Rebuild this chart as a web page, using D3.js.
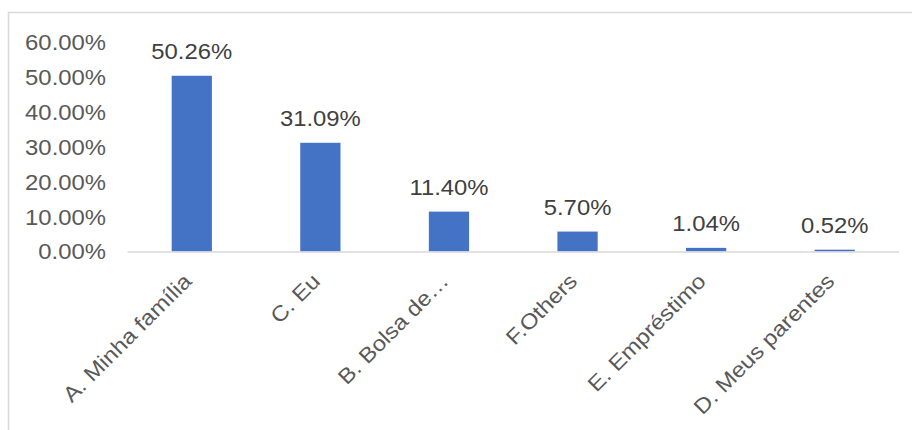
<!DOCTYPE html>
<html>
<head>
<meta charset="utf-8">
<script src="https://cdn.jsdelivr.net/npm/d3@7"></script>
<style>
  html, body { margin: 0; padding: 0; background: #fff; }
  svg { display: block; font-family: "Liberation Sans", Arial, sans-serif; }
</style>
</head>
<body>
<svg id="chart" width="912" height="430"></svg>
<script>
// Funding source shares (percent of respondents)
const categories = ["A. Minha família", "C. Eu", "B. Bolsa de…", "F.Others", "E. Empréstimo", "D. Meus parentes"];
const values = [50.26, 31.09, 11.40, 5.70, 1.04, 0.52];
const yTicks = [0, 10, 20, 30, 40, 50, 60];

const svg = d3.select("#chart");
const W = 912, H = 430;
const FONT = 21.4;      // label size
const WIDEN = 1.115;    // widening of the lettering along its baseline

// chart area frame (clipped on the right and bottom)
svg.append("path")
  .attr("d", `M8.5,${H} V12.5 H${W}`)
  .attr("fill", "none")
  .attr("stroke", "#d9d9d9")
  .attr("stroke-width", 1.5);

const x = d3.scaleBand()
  .domain(categories)
  .range([127.5, 899])
  .paddingInner(0.687)
  .paddingOuter(0.3435);

const y = d3.scaleLinear()
  .domain([0, 60])
  .range([251.5, 41.7]);

// value axis labels (no axis line, no ticks)
const yAxis = d3.axisLeft(y)
  .tickValues(yTicks)
  .tickSize(0)
  .tickPadding(0)
  .tickFormat(d => d3.format(".2f")(d) + "%");

const gy = svg.append("g")
  .attr("transform", "translate(106,0)")
  .call(yAxis);
gy.select(".domain").remove();
gy.selectAll("text")
  .attr("fill", "#595959")
  .attr("font-size", FONT)
  .attr("font-family", "Liberation Sans, Arial, sans-serif")
  .attr("x", 0)
  .attr("dy", "0.35em")
  .attr("transform", `scale(${WIDEN},1)`);

// bars
svg.append("g")
  .selectAll("rect")
  .data(values)
  .join("rect")
  .attr("x", (d, i) => x(categories[i]))
  .attr("width", x.bandwidth())
  .attr("y", d => y(d))
  .attr("height", d => y(0) - y(d))
  .attr("fill", "#4472c4");

// category axis line
svg.append("line")
  .attr("x1", x.range()[0])
  .attr("x2", x.range()[1])
  .attr("y1", y(0) + 0.5)
  .attr("y2", y(0) + 0.5)
  .attr("stroke", "#d9d9d9")
  .attr("stroke-width", 1.5);

// data labels
svg.append("g")
  .selectAll("text")
  .data(values)
  .join("text")
  .attr("transform", (d, i) =>
    `translate(${x(categories[i]) + x.bandwidth() / 2},${y(d) - 16.7}) scale(${WIDEN},1)`)
  .attr("text-anchor", "middle")
  .attr("font-size", FONT)
  .attr("fill", "#404040")
  .text(d => d3.format(".2f")(d) + "%");

// rotated category labels
svg.append("g")
  .selectAll("text")
  .data(categories)
  .join("text")
  .attr("transform", d =>
    `translate(${x(d) + x.bandwidth() / 2 + 1},${y(0) + 31}) rotate(-45) scale(${WIDEN},1)`)
  .attr("text-anchor", "end")
  .attr("font-size", FONT)
  .attr("fill", "#595959")
  .text(d => d);
</script>
</body>
</html>
